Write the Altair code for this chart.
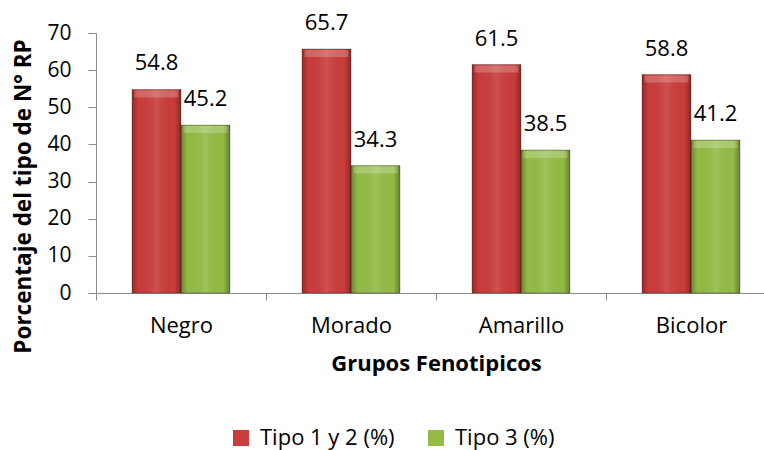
import altair as alt
import pandas as pd

# Phenotypic groups and the share of each RP type (%)
grupos = ["Negro", "Morado", "Amarillo", "Bicolor"]
series = ["Tipo 1 y 2 (%)", "Tipo 3 (%)"]
tipo_1_2 = [54.8, 65.7, 61.5, 58.8]
tipo_3 = [45.2, 34.3, 38.5, 41.2]
colores = ["#C93D3B", "#94BC45"]

rows = []
for g, a, b in zip(grupos, tipo_1_2, tipo_3):
    rows.append({"grupo": g, "serie": series[0], "valor": a})
    rows.append({"grupo": g, "serie": series[1], "valor": b})
df = pd.DataFrame(rows)

FONT = "Open Sans"
AXIS_GRAY = "#8c8c8c"

base = alt.Chart(df).encode(
    x=alt.X(
        "grupo:N",
        sort=grupos,
        scale=alt.Scale(range=[0, 680], paddingInner=0, paddingOuter=0),
        axis=alt.Axis(
            title="Grupos Fenotipicos",
            labelAngle=0,
            tickBand="extent",
            domainColor=AXIS_GRAY,
            tickColor=AXIS_GRAY,
            tickSize=7,
            labelFontSize=22,
            labelPadding=15,
            labelColor="black",
            titleFontSize=22,
            titleFontWeight="bold",
            titleColor="black",
            titlePadding=17,
        ),
    ),
    xOffset=alt.XOffset(
        "serie:N",
        sort=series,
        scale=alt.Scale(paddingInner=0, paddingOuter=0.735),
    ),
    y=alt.Y(
        "valor:Q",
        scale=alt.Scale(domain=[0, 70]),
        axis=alt.Axis(
            title="Porcentaje del tipo de N° RP",
            values=[0, 10, 20, 30, 40, 50, 60, 70],
            grid=False,
            domainColor=AXIS_GRAY,
            tickColor=AXIS_GRAY,
            tickSize=8,
            labelFontSize=21,
            labelPadding=17,
            labelColor="black",
            titleFontSize=22.5,
            titleFontWeight="bold",
            titleColor="black",
            titleAngle=-90,
            titleAlign="center",
            titleBaseline="alphabetic",
            titleX=-66,
            titleY=163,
        ),
    ),
)

bars = base.mark_bar().encode(
    color=alt.Color(
        "serie:N",
        sort=series,
        scale=alt.Scale(domain=series, range=colores),
        legend=alt.Legend(
            title=None,
            orient="none",
            legendX=134,
            legendY=394,
            direction="horizontal",
            symbolType="square",
            symbolSize=256,
            symbolStrokeWidth=0,
            labelFontSize=22,
            labelColor="black",
            labelOffset=8,
            columnPadding=30,
        ),
    )
)

# Soft shading across each bar to give it a rounded, bevelled look
shade = base.mark_bar(
    fill=alt.Gradient(
        gradient="linear",
        x1=0, x2=1, y1=0, y2=0,
        stops=[
            alt.GradientStop(color="rgba(0,0,0,0.28)", offset=0),
            alt.GradientStop(color="rgba(0,0,0,0.0)", offset=0.14),
            alt.GradientStop(color="rgba(255,255,255,0.10)", offset=0.5),
            alt.GradientStop(color="rgba(0,0,0,0.0)", offset=0.86),
            alt.GradientStop(color="rgba(0,0,0,0.32)", offset=1),
        ],
    ),
    stroke="black",
    strokeOpacity=0.25,
    strokeWidth=1,
)

# Lighter band along the top edge of each bar
bevel = base.mark_tick(
    orient="horizontal",
    thickness=7,
    size=44,
    yOffset=4.5,
    color="white",
    opacity=0.22,
)

labels = base.mark_text(
    dy=-19, baseline="alphabetic", fontSize=22, font=FONT, color="black"
).encode(text=alt.Text("valor:Q", format=".1f"))

chart = (
    alt.layer(bars, shade, bevel, labels)
    .properties(
        width=668,
        height=260,
        autosize=alt.AutoSizeParams(type="none"),
        padding={"left": 96, "top": 33, "right": 0, "bottom": 157},
    )
    .configure(font=FONT)
    .configure_view(stroke=None)
)

chart.save("out.html", embed_options={"renderer": "svg", "actions": False})
